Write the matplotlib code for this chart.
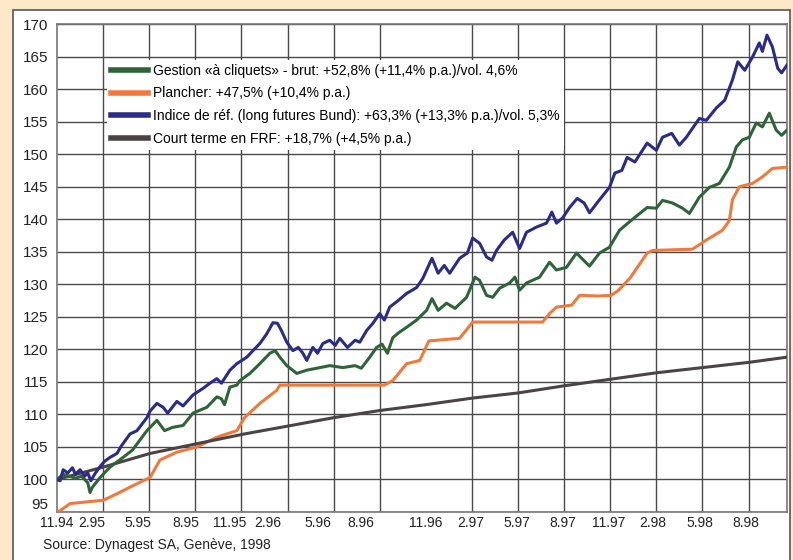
import matplotlib.pyplot as plt
from matplotlib.patches import Rectangle

plt.rcParams['font.family'] = ['Liberation Sans', 'DejaVu Sans']

# x = months since 11.94
gestion_x = [0, 0.4, 0.8, 1.2, 1.6, 2.0, 2.15, 2.3, 2.8, 3.45, 4.3, 4.9, 5.85, 6.5, 7.0, 7.5,
             8.2, 8.85, 9.75, 10.4, 10.7, 10.9, 11.25, 11.7, 11.9, 12.55, 13.2, 13.85, 14.2,
             14.5, 14.95, 15.6, 16.25, 16.9, 17.75, 18.6, 19.4, 19.8, 20.35, 20.8, 21.15,
             21.5, 21.85, 22.2, 22.75, 23.4, 24.05, 24.4, 24.8, 25.35, 25.9, 26.65, 27.2,
             27.5, 27.95, 28.35, 28.8, 29.45, 29.8, 30.1, 30.55, 31.4, 32.05, 32.5, 33.15,
             33.8, 34.65, 35.3, 35.95, 36.6, 37.45, 38.4, 39.0, 39.4, 40.05, 40.7, 41.15,
             41.8, 42.45, 43.1, 43.75, 44.2, 44.6, 45.05, 45.5, 45.9, 46.35, 46.8, 47.15, 47.5]
gestion_y = [100, 100.8, 100.5, 100.2, 100.5, 99.5, 98.0, 98.8, 100.3, 101.9, 103.4, 104.5,
             107.5, 109.1, 107.5, 108.0, 108.3, 110.2, 111.1, 112.7, 112.4, 111.5, 114.2, 114.5,
             115.2, 116.3, 117.8, 119.4, 119.8, 118.8, 117.5, 116.3, 116.8, 117.1, 117.5, 117.2,
             117.5, 117.1, 118.8, 120.3, 120.8, 119.4, 121.8, 122.5, 123.4, 124.5, 126.0, 127.8,
             126.0, 127.1, 126.3, 128.0, 131.1, 130.6, 128.3, 128.0, 129.4, 130.2, 131.1, 129.1,
             130.2, 131.1, 133.4, 132.2, 132.6, 134.8, 132.8, 134.8, 135.7, 138.3, 140.0, 141.8,
             141.7, 142.9, 142.5, 141.7, 140.9, 143.4, 144.9, 145.5, 148.0, 151.1, 152.2, 152.6,
             154.8, 154.2, 156.3, 153.7, 152.9, 153.7]

plancher_x = [0, 0.2, 0.85, 3.0, 3.9, 4.9, 6.05, 6.7, 7.8, 9.1, 10.4, 11.7, 12.2, 13.2, 14.3,
              14.5, 21.3, 21.85, 22.75, 23.6, 24.2, 26.2, 27.05, 31.6, 32.05, 32.5, 33.5, 34.0,
              35.2, 36.05, 36.5, 37.3, 38.4, 38.75, 41.35, 42.25, 43.3, 43.75, 43.95, 44.4,
              45.25, 45.9, 46.55, 47.5]
plancher_y = [95.0, 95.2, 96.3, 96.8, 97.8, 99.0, 100.3, 103.0, 104.2, 105.0, 106.5, 107.5,
              109.5, 111.7, 113.7, 114.5, 114.5, 115.2, 117.8, 118.3, 121.3, 121.7, 124.2,
              124.2, 125.5, 126.5, 126.8, 128.3, 128.2, 128.3, 129.0, 131.0, 134.8, 135.2,
              135.4, 136.8, 138.3, 139.8, 143.0, 145.0, 145.5, 146.5, 147.8, 148.0]

indice_x = [0, 0.2, 0.4, 0.7, 1.0, 1.2, 1.5, 1.8, 2.0, 2.2, 2.5, 2.8, 3.1, 3.45, 3.9, 4.2,
            4.75, 5.2, 5.85, 6.05, 6.5, 6.9, 7.2, 7.8, 8.2, 8.85, 9.5, 9.95, 10.4, 10.7, 11.25,
            11.7, 12.35, 12.75, 13.2, 13.65, 14.05, 14.35, 14.6, 14.95, 15.35, 15.7, 16.0,
            16.25, 16.65, 16.95, 17.3, 17.75, 18.1, 18.4, 18.9, 19.4, 19.7, 20.15, 20.55, 21.0,
            21.3, 21.65, 22.2, 22.75, 23.4, 23.8, 24.4, 24.8, 25.2, 25.55, 26.2, 26.7, 27.05,
            27.5, 27.95, 28.3, 28.6, 29.1, 29.65, 30.1, 30.55, 31.2, 31.85, 32.2, 32.5, 32.9,
            33.35, 33.85, 34.3, 34.65, 35.3, 35.95, 36.3, 36.75, 37.1, 37.6, 38.4, 39.0, 39.4,
            40.0, 40.5, 40.95, 41.8, 42.25, 42.9, 43.45, 43.95, 44.3, 44.75, 45.25, 45.7, 45.9,
            46.2, 46.55, 46.9, 47.15, 47.5]
indice_y = [100.0, 99.8, 101.5, 101.0, 101.8, 100.8, 101.5, 100.5, 101.0, 99.8, 101.0, 102.0,
            102.8, 103.4, 104.0, 105.2, 107.0, 107.5, 109.5, 110.5, 111.7, 111.1, 110.2, 112.0,
            111.3, 113.0, 114.0, 114.8, 115.5, 114.8, 116.8, 117.8, 118.8, 119.8, 120.9, 122.4,
            124.1, 124.0, 122.9, 121.1, 119.8, 120.3, 119.4, 118.3, 120.3, 119.4, 120.9, 121.4,
            120.6, 121.7, 120.3, 121.4, 121.1, 122.9, 124.0, 125.5, 124.5, 126.5, 127.5, 128.6,
            129.5, 130.9, 134.0, 131.7, 132.9, 131.7, 134.0, 134.8, 137.1, 136.3, 134.2, 133.7,
            135.2, 136.8, 138.0, 135.5, 138.0, 138.8, 139.4, 141.1, 139.4, 140.2, 141.8, 143.2,
            142.5, 141.0, 143.0, 144.9, 147.1, 147.5, 149.5, 148.8, 151.7, 150.6, 152.6, 153.2,
            151.4, 152.6, 155.5, 155.2, 157.1, 158.3, 161.4, 164.2, 162.9, 164.9, 167.1, 165.8,
            168.3, 166.5, 163.2, 162.5, 163.7]

court_x = [0, 3.0, 6.05, 9.1, 12.2, 15.0, 18.0, 21.0, 24.0, 27.0, 30.0, 33.0, 36.0, 39.0, 42.0, 45.0, 47.5]
court_y = [100.0, 101.9, 104.0, 105.5, 107.0, 108.2, 109.5, 110.6, 111.5, 112.5, 113.3, 114.4,
           115.4, 116.4, 117.2, 118.0, 118.8]

labels = ['Gestion «à cliquets» - brut: +52,8% (+11,4% p.a.)/vol. 4,6%',
          'Plancher: +47,5% (+10,4% p.a.)',
          'Indice de réf. (long futures Bund): +63,3% (+13,3% p.a.)/vol. 5,3%',
          'Court terme en FRF: +18,7% (+4,5% p.a.)']
colors = ['#2e6437', '#ee7a3e', '#2a2d85', '#4a4444']

x_labels = ['11.94', '2.95', '5.95', '8.95', '11.95', '2.96', '5.96', '8.96',
            '11.96', '2.97', '5.97', '8.97', '11.97', '2.98', '5.98', '8.98']
x_label_pos = [0, 2.25, 5.25, 8.4, 11.25, 13.7, 17.0, 19.8,
               24.0, 26.9, 29.9, 32.9, 35.9, 38.75, 41.8, 44.8]

fig = plt.figure(figsize=(7.93, 5.6), dpi=100)
fig.patch.set_facecolor('#fde8c9')
fig.patches.append(Rectangle((0.0164, -0.05), 0.98, 1.032, transform=fig.transFigure,
                             facecolor='white', edgecolor='#555555', lw=1.2, zorder=-1))

ax = fig.add_axes([0.0719, 0.0857, 0.9205, 0.8713])
ax.set_facecolor('white')

l1, = ax.plot(gestion_x, gestion_y, color=colors[0], lw=2.2, zorder=4)
l2, = ax.plot(plancher_x, plancher_y, color=colors[1], lw=2.2, zorder=3)
l3, = ax.plot(indice_x, indice_y, color=colors[2], lw=2.2, zorder=5)
l4, = ax.plot(court_x, court_y, color=colors[3], lw=2.2, zorder=3)

ax.set_xlim(0, 47.5)
ax.set_ylim(95, 170)
ax.set_yticks(range(95, 171, 5))
ax.set_xticks(x_label_pos)
ax.set_xticklabels(x_labels)
ax.set_xticks(range(0, 46, 3), minor=True)
ax.tick_params(axis='both', which='both', length=0, colors='#222222')
ax.tick_params(axis='y', pad=6, labelsize=11)
ax.tick_params(axis='x', pad=3, labelsize=10)
ax.get_yticklabels()[0].set_va('bottom')  # "95" sits just above the bottom edge
ax.grid(False)
ax.yaxis.grid(True, color='#4a4a4a', lw=1.0)
ax.xaxis.grid(True, which='minor', color='#4a4a4a', lw=1.0)
for s in ax.spines.values():
    s.set_color('#777777')
    s.set_linewidth(1.2)

leg = ax.legend([l1, l2, l3, l4], labels, loc='upper left', bbox_to_anchor=(0.0685, 0.927),
                borderaxespad=0, fontsize=10, frameon=True, fancybox=False,
                framealpha=1, edgecolor='none', handlelength=2.65, handletextpad=0.35,
                labelspacing=0.62, borderpad=0.3)
for h in leg.get_lines():
    h.set_linewidth(4)
leg.set_zorder(6)

fig.text(0.054, 0.027, 'Source: Dynagest SA, Genève, 1998', fontsize=10,
         color='#222222', va='center')

fig.savefig('out.png', dpi=100, facecolor=fig.get_facecolor())
